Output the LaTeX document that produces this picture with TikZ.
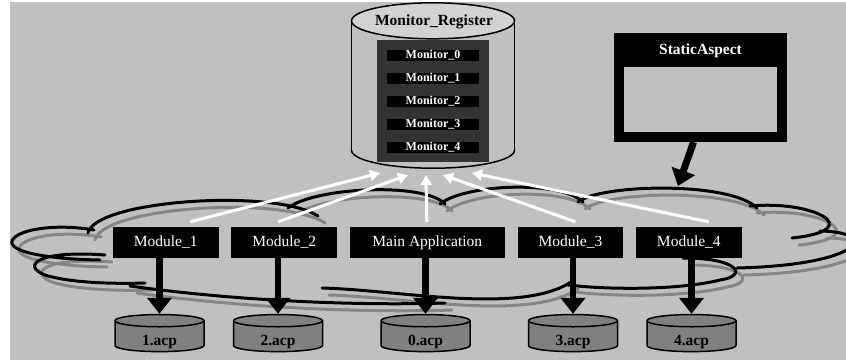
\documentclass[tikz,border=0pt]{standalone}
\usepackage{fontspec}
\setmainfont{Liberation Serif}
\usetikzlibrary{arrows.meta,chains,positioning,shapes.geometric}

\definecolor{bggray}{HTML}{C0C0C0}
\definecolor{lidgray}{HTML}{D2D2D2}
\definecolor{acpgray}{HTML}{808080}
\definecolor{shadowgray}{HTML}{868686}
\definecolor{panelgray}{HTML}{333333}

\tikzset{
  cloudline/.style={line width=3pt, line cap=round},
  cloud outline/.style={insert path={
    (100,260) .. controls (40,259) and (2,250) .. (14,238)
              .. controls (24,228) and (60,224) .. (94,230)
    (105,255) .. controls (40,250) and (20,265) .. (45,275)
              .. controls (70,283) and (115,284) .. (145,283)
    (88,233) .. controls (95,200) and (275,188) .. (318,216)
    (288,208) .. controls (315,187) and (425,182) .. (445,204)
    (440,204) .. controls (465,184) and (560,180) .. (583,202)
    (578,202) .. controls (600,184) and (730,181) .. (757,208)
    (750,206) .. controls (815,200) and (868,230) .. (792,238)
    (820,231) .. controls (882,232) and (862,265) .. (737,268)
    (683,258) .. controls (740,258) and (748,276) .. (720,280)
              .. controls (680,290) and (610,290) .. (568,285)
    (322,288) .. controls (400,290) and (520,315) .. (571,282)
    (130,286) .. controls (230,300) and (350,306) .. (445,303)
  }},
  modbox/.style={fill=black, text=white, inner sep=0pt,
    minimum width=105.5pt, minimum height=31pt,
    font=\fontsize{15.5}{17}\selectfont},
  monbox/.style={fill=black, text=white, inner sep=0pt,
    minimum width=92pt, minimum height=11pt,
    font=\fontsize{12}{13}\selectfont\bfseries},
  acpbox/.style={cylinder, shape border rotate=90, aspect=0.35, draw,
    line width=1.5pt, cylinder uses custom fill,
    cylinder body fill=acpgray, cylinder end fill=acpgray,
    minimum width=89pt, minimum height=35pt, inner sep=0pt,
    text height=18pt, text depth=0pt,
    font=\fontsize{15.5}{17}\selectfont\bfseries},
  storearrow/.style={line width=6.5pt, -{Triangle[width=24pt,length=16pt]}},
  reportarrow/.style={white, line width=3pt, -{Triangle[width=11pt,length=10pt]}},
}

\begin{document}
\begin{tikzpicture}[x=1pt, y=-1pt]
  \useasboundingbox (0,0) rectangle (846,360);
  \fill[bggray] (10,2) rectangle (846,360);

  % clouds with their shadow
  \foreach \tone/\off in {shadowgray/7, black/0}
    \path[cloudline, draw=\tone, shift={(\off,\off)}, cloud outline];

  % monitor register
  \node[minimum width=163pt, minimum height=165pt, inner sep=0pt]
    (register) at (433,85.5) {};
  \begin{scope}[line width=1.5pt]
    \filldraw[fill=bggray] ([yshift=18pt]register.south)
      ellipse[x radius=81.5, y radius=18];
    \fill[bggray] ([yshift=-18pt]register.north west)
      rectangle ([yshift=18pt]register.south east);
    \draw ([yshift=-18pt]register.north west) -- ([yshift=18pt]register.south west)
          ([yshift=-18pt]register.north east) -- ([yshift=18pt]register.south east);
    \filldraw[fill=lidgray] ([yshift=-18pt]register.north)
      ellipse[x radius=81.5, y radius=18];
  \end{scope}
  \node[font=\fontsize{15.5}{17}\selectfont\bfseries] (register-title)
    at (434,22) {Monitor\_Register};
  \node[fill=panelgray, minimum width=112pt, minimum height=122pt,
    inner sep=0pt] (register-panel) at (433,101) {};
  \foreach \i in {0,...,4}
    \node[monbox] (mon-\i) at (433,{55+23*\i}) {Monitor\_\i};

  % static aspect
  \node[fill=black, minimum width=173pt, minimum height=109pt,
    inner sep=0pt] (static-aspect) at (700.5,87.5) {};
  \node[fill=bggray, minimum width=153pt, minimum height=65pt,
    inner sep=0pt] (static-body) at (700.5,99.5) {};
  \node[text=white, font=\fontsize{15.5}{17}\selectfont\bfseries]
    (static-title) at (700.5,51) {StaticAspect};

  % modules
  \begin{scope}[
    every node/.style={modbox, on chain},
    node distance=12.5pt,
    start chain=going right,
    ]
    \node (mod-1) at (165.75,242.5) {Module\_1};
    \node (mod-2) {Module\_2};
    \node[minimum width=155pt] (main-app) {Main Application};
    \node (mod-3) {Module\_3};
    \node (mod-4) {Module\_4};
  \end{scope}

  % acp files
  \node[acpbox] (acp-1) at (159.5,336.5) {1.acp};
  \node[acpbox] (acp-2) at (278,336.5) {2.acp};
  \node[acpbox] (acp-0) at (425.5,336.5) {0.acp};
  \node[acpbox] (acp-3) at (573,336.5) {3.acp};
  \node[acpbox] (acp-4) at (691.5,336.5) {4.acp};

  \draw[storearrow] (mod-1.south -| acp-1.north) -- (acp-1.north);
  \draw[storearrow] (mod-2.south -| acp-2.north) -- (acp-2.north);
  \draw[storearrow] (main-app.south -| acp-0.north) -- (acp-0.north);
  \draw[storearrow] (mod-3.south -| acp-3.north) -- (acp-3.north);
  \draw[storearrow] (mod-4.south -| acp-4.north) -- (acp-4.north);

  \coordinate (cloud-drop) at (678,186);
  \draw[storearrow, line width=7pt] ([xshift=-7pt]static-aspect.south) -- (cloud-drop);

  % reports to the register
  \draw[reportarrow] ([xshift=24.5pt,yshift=5pt]mod-1.north)
    -- ([xshift=-53pt,yshift=-87.5pt]register.center);
  \draw[reportarrow] ([xshift=-6pt,yshift=5pt]mod-2.north)
    -- ([xshift=-25pt,yshift=-89.5pt]register.center);
  \draw[reportarrow] ([xshift=-0.5pt,yshift=5pt]main-app.north)
    -- ([xshift=-7pt,yshift=-89.5pt]register.center);
  \draw[reportarrow] ([xshift=5pt,yshift=5pt]mod-3.north)
    -- ([xshift=10pt,yshift=-89.5pt]register.center);
  \draw[reportarrow] ([xshift=20pt,yshift=5pt]mod-4.north)
    -- ([xshift=39pt,yshift=-87.5pt]register.center);
\end{tikzpicture}
\end{document}
